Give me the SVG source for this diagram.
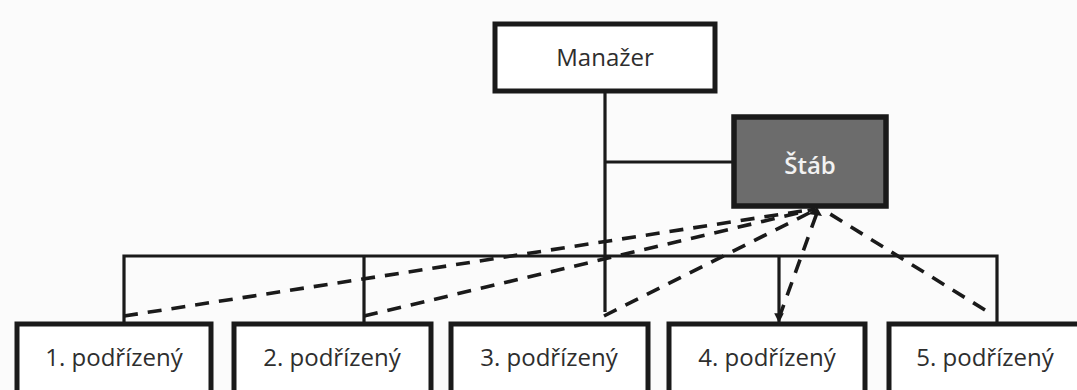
<svg xmlns="http://www.w3.org/2000/svg" width="1077" height="390" viewBox="0 0 1077 390">
<style>
.box{fill:#ffffff;stroke:#1a1a1a;stroke-width:5}
.staff{fill:#6c6c6c;stroke:#1a1a1a;stroke-width:5.5}
.lbl{font-family:"Open Sans","Noto Sans",sans-serif;font-size:24px;fill:#2e2e2e;text-anchor:middle}
.lblw{font-family:"Open Sans","Noto Sans",sans-serif;font-size:24px;font-weight:600;fill:#f2f2f2;text-anchor:middle}
.ln{stroke:#1a1a1a;stroke-width:3.2;fill:none}
.dash{stroke:#1a1a1a;stroke-width:3.6;fill:none;stroke-dasharray:14 10}
</style>
<defs>
<marker id="ah" viewBox="0 0 10 10" refX="9" refY="5" markerWidth="3" markerHeight="3" orient="auto"><path d="M0,0 L10,5 L0,10 z" fill="#1a1a1a"/></marker>
</defs>
<rect width="1077" height="390" fill="#fbfbfb"/>
<g id="connectors">
<line class="ln" x1="605" y1="91" x2="605" y2="312"/>
<line class="ln" x1="605" y1="162" x2="734" y2="162"/>
<polyline class="ln" points="124,322 124,256 997,256 997,322"/>
<line class="ln" x1="364" y1="256" x2="364" y2="322"/>
<line class="ln" x1="779" y1="256" x2="779" y2="322" marker-end="url(#ah)"/>
<line class="dash" x1="124" y1="316" x2="815" y2="209"/>
<line class="dash" x1="364" y1="316" x2="815" y2="209"/>
<line class="dash" x1="604" y1="316" x2="817" y2="209"/>
<line class="dash" x1="779" y1="318" x2="818" y2="210"/>
<line class="dash" x1="985" y1="310" x2="822" y2="209"/>
<path d="M808,214 L817,207 L822,216 z" fill="#1a1a1a"/>
</g>
<g id="manazer">
<rect class="box" x="495" y="24" width="220" height="67"/>
<text class="lbl" x="605" y="66">Manažer</text>
</g>
<g id="stab">
<rect class="staff" x="734" y="117" width="152" height="89"/>
<text class="lblw" x="810" y="174">Štáb</text>
</g>
<g id="p1">
<rect class="box" x="17" y="324" width="194" height="72"/>
<text class="lbl" x="114" y="366">1. podřízený</text>
</g>
<g id="p2">
<rect class="box" x="234" y="324" width="197" height="72"/>
<text class="lbl" x="332" y="366">2. podřízený</text>
</g>
<g id="p3">
<rect class="box" x="451" y="324" width="197" height="72"/>
<text class="lbl" x="549" y="366">3. podřízený</text>
</g>
<g id="p4">
<rect class="box" x="669" y="324" width="196" height="72"/>
<text class="lbl" x="767" y="366">4. podřízený</text>
</g>
<g id="p5">
<rect class="box" x="889" y="324" width="192" height="72"/>
<text class="lbl" x="985" y="366">5. podřízený</text>
</g>
</svg>
